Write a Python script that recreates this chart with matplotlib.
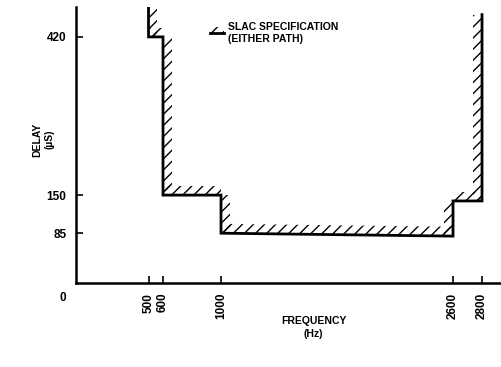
import numpy as np
import matplotlib.pyplot as plt
from matplotlib.patches import Polygon, Rectangle
from matplotlib.lines import Line2D

plt.rcParams['font.family'] = ['Liberation Sans', 'DejaVu Sans']
plt.rcParams['hatch.linewidth'] = 1.0

# SLAC delay specification (staircase outline)
freq = [500, 500, 600, 600, 1000, 1000, 2600, 2600, 2800, 2800]
delay = [470, 420, 420, 150, 150, 85, 80, 140, 140, 458]
# side of each segment that carries the hatching (+1 right/up, -1 left)
hatch_side = [1, 1, 1, 1, 1, 1, -1, 1, -1]

xticks = [500, 600, 1000, 2600, 2800]
yticks = [85, 150, 420]

fig = plt.figure(figsize=(5.02, 3.67), dpi=100)
ax = fig.add_axes([0.1514, 0.2289, 0.8446, 0.752])

ax.plot(freq, delay, color='black', lw=2.0, solid_joinstyle='miter', zorder=3)

# hatched band along the inside of the outline
dx, dy = 62, 16
for i in range(len(freq) - 1):
    x0, y0, x1, y1 = freq[i], delay[i], freq[i + 1], delay[i + 1]
    s = hatch_side[i]
    if x0 == x1:
        pts = [(x0, y0), (x1, y1), (x1 + s * dx, y1), (x0 + s * dx, y0)]
    else:
        pts = [(x0, y0), (x1, y1), (x1, y1 + s * dy), (x0, y0 + s * dy)]
    ax.add_patch(Polygon(pts, closed=True, facecolor='none', edgecolor='black',
                         lw=0, hatch='///', zorder=2))

ax.set_xlim(0, 2924)
ax.set_ylim(0, 471)

for side in ['top', 'right']:
    ax.spines[side].set_visible(False)
for side in ['left', 'bottom']:
    ax.spines[side].set_linewidth(1.8)

ax.set_xticks(xticks)
ax.set_xticklabels([str(t) for t in xticks], rotation=90, fontsize=8.5, fontweight='bold')
ax.set_yticks(yticks)
ax.set_yticklabels([str(t) for t in yticks], fontsize=8.5, fontweight='bold')
ax.tick_params(axis='both', direction='in', length=5, width=1.2, pad=7)

ax.annotate('0', xy=(0, 0), xytext=(-9.5, -11), textcoords='offset points',
            ha='center', va='center', fontsize=8.5, fontweight='bold')

fig.text(0.087, 0.62, 'DELAY\n(\u00b5S)', rotation=90, ha='center', va='center',
         fontsize=7.5, fontweight='bold', linespacing=1.3)
fig.text(0.625, 0.108, 'FREQUENCY\n(Hz)', ha='center', va='center',
         fontsize=7.5, fontweight='bold', linespacing=1.3)

# legend key
ax.add_line(Line2D([0.315, 0.348], [0.905, 0.905], transform=ax.transAxes,
                   color='black', lw=2.0))
ax.add_patch(Rectangle((0.315, 0.905), 0.033, 0.024, transform=ax.transAxes,
                       facecolor='none', edgecolor='black', lw=0, hatch='///'))
ax.text(0.358, 0.905, 'SLAC SPECIFICATION\n(EITHER PATH)', transform=ax.transAxes,
        ha='left', va='center', fontsize=7.5, fontweight='bold', linespacing=1.3)

fig.savefig('out.png', dpi=100)
